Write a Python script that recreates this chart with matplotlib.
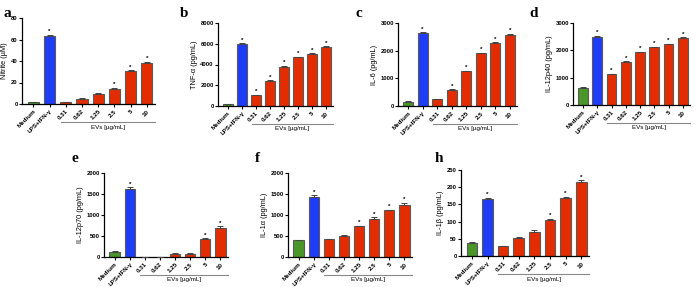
import matplotlib
matplotlib.use('Agg')
import matplotlib.pyplot as plt
import matplotlib.transforms as mtransforms

plt.rcParams['font.family'] = ['Liberation Sans', 'DejaVu Sans']
plt.rcParams['font.weight'] = 'bold'

groups = ['Medium', 'LPS+IFN-γ', '0.31', '0.62', '1.25', '2.5', '5', '10']

nitrite = [1.5, 63.5, 2.0, 5.0, 9.5, 14.0, 30.5, 38.0]
nitrite_err = [0.5, 1.0, 0.3, 0.5, 0.6, 1.2, 0.8, 1.5]
nitrite_star = [0, 1, 0, 0, 0, 1, 1, 1]

tnf = [200, 5950, 1050, 2450, 3800, 4680, 5050, 5700]
tnf_err = [30, 80, 50, 70, 90, 70, 40, 40]
tnf_star = [0, 1, 1, 1, 1, 1, 1, 1]

il6 = [150, 2650, 250, 570, 1250, 1900, 2290, 2560]
il6_err = [20, 30, 10, 30, 30, 30, 20, 50]
il6_star = [0, 1, 0, 1, 1, 1, 1, 1]

il12p40 = [640, 2480, 1120, 1560, 1930, 2110, 2220, 2440]
il12p40_err = [20, 50, 20, 40, 20, 30, 20, 50]
il12p40_star = [0, 1, 1, 1, 1, 1, 1, 1]

il12p70 = [130, 1620, 0, 0, 70, 70, 420, 680]
il12p70_err = [10, 40, 0, 0, 20, 15, 30, 50]
il12p70_star = [0, 1, 0, 0, 0, 0, 1, 1]

il1a = [400, 1430, 420, 510, 730, 900, 1110, 1240]
il1a_err = [15, 40, 15, 10, 20, 50, 20, 50]
il1a_star = [0, 1, 0, 0, 1, 1, 1, 1]

il1b = [38, 165, 28, 52, 70, 105, 168, 215]
il1b_err = [4, 5, 1, 2, 6, 4, 4, 5]
il1b_star = [0, 1, 0, 0, 0, 1, 1, 1]

panels = [
    # letter, values, err, stars, ylabel, ymax, yticks, px box (left, right, top, zero), letter pos
    ('a', nitrite, nitrite_err, nitrite_star, 'Nitrite (µM)', 80, [0, 20, 40, 60, 80], (22, 155, 18, 104), (4, 17)),
    ('b', tnf, tnf_err, tnf_star, 'TNF-α (pg/mL)', 8000, [0, 2000, 4000, 6000, 8000], (218, 333, 23, 106), (180, 17)),
    ('c', il6, il6_err, il6_star, 'IL-6 (pg/mL)', 3000, [0, 1000, 2000, 3000], (398, 517, 23, 106), (355, 17)),
    ('d', il12p40, il12p40_err, il12p40_star, 'IL-12p40 (pg/mL)', 3000, [0, 1000, 2000, 3000], (573, 690, 23, 105), (529, 17)),
    ('e', il12p70, il12p70_err, il12p70_star, 'IL-12p70 (pg/mL)', 2000, [0, 500, 1000, 1500, 2000], (104, 228, 173, 257), (72, 162)),
    ('f', il1a, il1a_err, il1a_star, 'IL-1α (pg/mL)', 2000, [0, 500, 1000, 1500, 2000], (288, 412, 173, 257), (255, 162)),
    ('h', il1b, il1b_err, il1b_star, 'IL-1β (pg/mL)', 250, [0, 50, 100, 150, 200, 250], (461, 589, 170, 256), (435, 162)),
]

colors = ['#4a9628', '#1f3cf7'] + ['#e32d00'] * 6
W, H = 700, 287

fig = plt.figure(figsize=(7, 2.87), dpi=100)

for letter, vals, err, stars, ylab, ymax, yt, box, lpos in panels:
    l, r, t, z = box
    ax = fig.add_axes([l / W, 1 - z / H, (r - l) / W, (z - t) / H])
    x = list(range(len(groups)))
    ax.bar(x, vals, width=0.68, color=colors, edgecolor='#5a5a5a', linewidth=0.8, zorder=2)
    ax.errorbar(x, vals, yerr=[[0] * len(err), err], fmt='none', ecolor='#444444',
                elinewidth=0.7, capsize=2.0, capthick=0.7, zorder=3)
    for xi, v, e, s in zip(x, vals, err, stars):
        if s:
            ax.text(xi, v + e + ymax * 0.005, '*', ha='center', va='bottom', fontsize=4.5)
    ax.set_xlim(-0.7, 7.5)
    ax.set_ylim(0, ymax)
    ax.set_yticks(yt)
    ax.set_xticks(x)
    ax.set_xticklabels(groups, rotation=45, ha='right', rotation_mode='anchor', fontsize=4.5)
    ax.tick_params(axis='y', labelsize=4.2, length=2, width=0.8, pad=1)
    ax.tick_params(axis='x', length=2, width=0.8, pad=1.5)
    for s in ['top', 'right']:
        ax.spines[s].set_visible(False)
    for s in ['left', 'bottom']:
        ax.spines[s].set_linewidth(0.9)
    ax.set_ylabel(ylab, fontsize=5.3, labelpad=2)
    # EVs bracket line under concentration labels
    trans = mtransforms.blended_transform_factory(ax.transData, ax.transAxes)
    ax.plot([1.7, 7.5], [-0.215, -0.215], color='#888888', lw=0.8, transform=trans, clip_on=False)
    ax.text(4.6, -0.24, 'EVs [µg/mL]', transform=trans, ha='center', va='top', fontsize=4.5,
            fontweight='normal')
    fig.text(lpos[0] / W, 1 - lpos[1] / H, letter, fontsize=11, fontweight='bold',
             family='Liberation Serif', ha='left', va='baseline')

fig.savefig('out.png', dpi=100)
